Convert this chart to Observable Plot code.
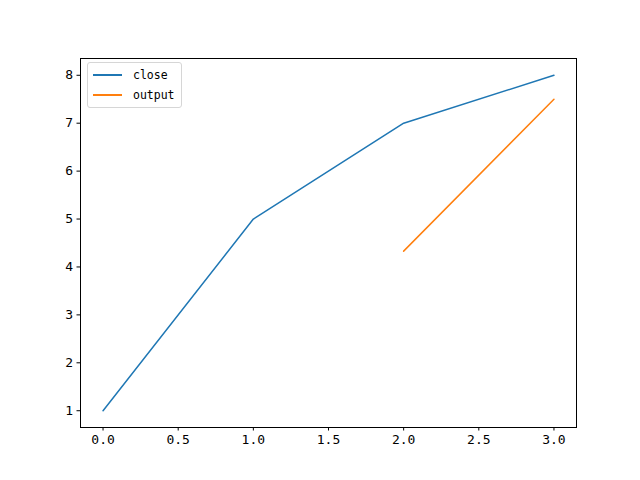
<!DOCTYPE html>
<html>
<head>
<meta charset="utf-8">
<script src="https://cdn.jsdelivr.net/npm/d3@7"></script>
<script src="https://cdn.jsdelivr.net/npm/@observablehq/plot@0.6"></script>
<style>
  body { margin: 0; background: #fff; }
  #wrap { position: relative; width: 640px; height: 480px; }
  #legend {
    position: absolute; left: 87px; top: 62px;
    border: 1px solid #d6d6d6; border-radius: 3px; background: rgba(255,255,255,0.8);
    padding: 2px 6px 2px 5px; font-family: "DejaVu Sans Mono", monospace; font-size: 11.5px; color: #000;
  }
  .row { display: flex; align-items: center; height: 20px; line-height: 20px; }
  .sw { width: 29px; height: 0; border-top: 2px solid; margin-right: 11px; }
</style>
</head>
<body>
<div id="wrap"><div id="legend"></div></div>
<script>
const closeX = [0, 1, 2, 3];
const closeY = [1, 5, 7, 8];
const outputX = [2, 3];
const outputY = [4.33, 7.5];
const seriesNames = ["close", "output"];
const seriesColors = ["#1f77b4", "#ff7f0e"];
const xTicks = [0, 0.5, 1, 1.5, 2, 2.5, 3];
const yTicks = [1, 2, 3, 4, 5, 6, 7, 8];

const closeData = closeX.map((x, i) => ({x, y: closeY[i]}));
const outputData = outputX.map((x, i) => ({x, y: outputY[i]}));

const font = "DejaVu Sans Mono, monospace";
const chart = Plot.plot({
  width: 640,
  height: 480,
  marginLeft: 80,
  marginRight: 64,
  marginTop: 58,
  marginBottom: 53,
  style: {fontFamily: font, fontSize: "13px", color: "#000", background: "#fff"},
  x: {domain: [-0.15, 3.15]},
  y: {domain: [0.65, 8.35]},
  marks: [
    Plot.line(closeData, {x: "x", y: "y", stroke: seriesColors[0], strokeWidth: 1.5}),
    Plot.line(outputData, {x: "x", y: "y", stroke: seriesColors[1], strokeWidth: 1.5}),
    Plot.axisX({ticks: xTicks, tickFormat: d => d.toFixed(1), tickSize: 3.5, tickPadding: 4, label: null, fontSize: 13}),
    Plot.axisY({ticks: yTicks, tickFormat: d => String(d), tickSize: 3.5, tickPadding: 4, label: null, fontSize: 13}),
    Plot.frame({stroke: "#000", strokeWidth: 1})
  ]
});
const wrap = document.getElementById("wrap");
wrap.insertBefore(chart, wrap.firstChild);

const legend = document.getElementById("legend");
seriesNames.forEach((n, i) => {
  const row = document.createElement("div");
  row.className = "row";
  const sw = document.createElement("div");
  sw.className = "sw";
  sw.style.borderColor = seriesColors[i];
  const t = document.createElement("span");
  t.textContent = n;
  row.appendChild(sw); row.appendChild(t);
  legend.appendChild(row);
});
</script>
</body>
</html>
